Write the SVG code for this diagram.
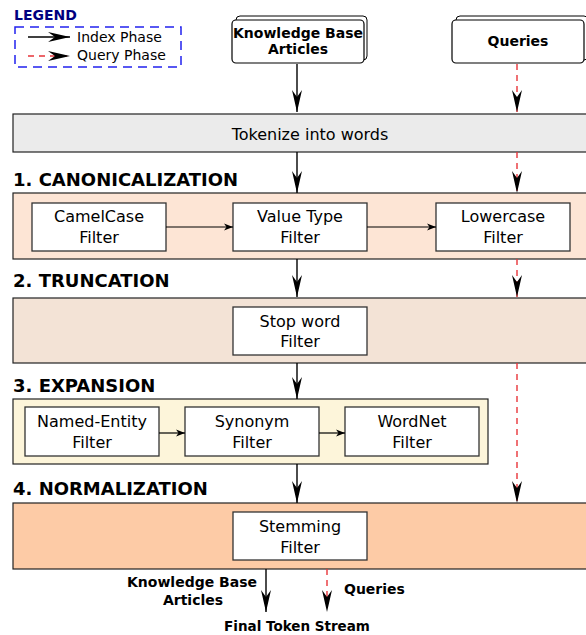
<svg xmlns="http://www.w3.org/2000/svg" width="586" height="635" viewBox="0 0 586 635">
<style>
.t{font-family:"DejaVu Sans",Verdana,sans-serif;fill:#000}
.r{font-size:16px}
.b{font-weight:bold}
.stage{stroke:#222;stroke-width:1.2}
.flt{fill:#fff;stroke:#333;stroke-width:1.3}
.idx{stroke:#000;stroke-width:1.4;fill:none}
.qry{stroke:#e8353a;stroke-width:1.4;fill:none;stroke-dasharray:6 5}
.sm{stroke:#000;stroke-width:1.2;fill:none}
</style>
<defs>
<marker id="vee" markerUnits="userSpaceOnUse" markerWidth="24" markerHeight="12" viewBox="0 -6 24 12" refX="22" refY="0" orient="auto">
<path d="M0,-5 L22,0 L0,5 L7,0 Z" fill="#000"/>
</marker>
<marker id="sv" markerUnits="userSpaceOnUse" markerWidth="10" markerHeight="8" viewBox="0 -4 10 8" refX="9" refY="0" orient="auto">
<path d="M0,-3.5 L9,0 L0,3.5 L2.5,0 Z" fill="#000"/>
</marker>
</defs>

<g id="legend">
<text class="t b" x="14" y="20" font-size="14" style="fill:#000080">LEGEND</text>
<rect x="15" y="27" width="166" height="40" fill="none" stroke="#2222ee" stroke-width="1.5" stroke-dasharray="9 6"/>
<line x1="28" y1="37" x2="70" y2="37" class="idx" marker-end="url(#vee)"/>
<text class="t" x="77" y="42" font-size="14">Index Phase</text>
<line x1="28" y1="56" x2="70" y2="56" class="qry" marker-end="url(#vee)"/>
<text class="t" x="77" y="60" font-size="14">Query Phase</text>
</g>

<g id="kb">
<rect x="236" y="16" width="131" height="44" rx="4" fill="#fff" stroke="#000" stroke-width="1"/>
<rect x="232" y="20" width="132" height="43" rx="4" fill="#fff" stroke="#000" stroke-width="1.2"/>
<text class="t b" x="298" y="38" font-size="14" text-anchor="middle">Knowledge Base</text>
<text class="t b" x="298" y="54" font-size="14" text-anchor="middle">Articles</text>
</g>

<g id="queries">
<rect x="456" y="16" width="132" height="44" rx="4" fill="#fff" stroke="#000" stroke-width="1"/>
<rect x="452" y="20" width="132" height="43" rx="4" fill="#fff" stroke="#000" stroke-width="1.2"/>
<text class="t b" x="518" y="46" font-size="14" text-anchor="middle">Queries</text>
</g>

<g id="tokenize">
<rect x="13" y="114" width="574" height="38" fill="#ebebeb" class="stage"/>
<text class="t r" x="310" y="140" text-anchor="middle">Tokenize into words</text>
</g>

<g id="canonicalization">
<text class="t b" x="13" y="186" font-size="18">1. CANONICALIZATION</text>
<rect x="13" y="193" width="574" height="66" fill="#fde5d5" class="stage"/>
</g>
<g id="camelcase">
<rect x="32" y="203" width="134" height="48" class="flt"/>
<text class="t r" x="99" y="222" text-anchor="middle">CamelCase</text>
<text class="t r" x="99" y="243" text-anchor="middle">Filter</text>
</g>
<g id="valuetype">
<rect x="233" y="203" width="134" height="48" class="flt"/>
<text class="t r" x="300" y="222" text-anchor="middle">Value Type</text>
<text class="t r" x="300" y="243" text-anchor="middle">Filter</text>
</g>
<g id="lowercase">
<rect x="436" y="203" width="134" height="48" class="flt"/>
<text class="t r" x="503" y="222" text-anchor="middle">Lowercase</text>
<text class="t r" x="503" y="243" text-anchor="middle">Filter</text>
</g>

<g id="truncation">
<text class="t b" x="13" y="287" font-size="18">2. TRUNCATION</text>
<rect x="13" y="298" width="574" height="65" fill="#f3e3d6" class="stage"/>
</g>
<g id="stopword">
<rect x="233" y="307" width="134" height="48" class="flt"/>
<text class="t r" x="300" y="327" text-anchor="middle">Stop word</text>
<text class="t r" x="300" y="347" text-anchor="middle">Filter</text>
</g>

<g id="expansion">
<text class="t b" x="13" y="392" font-size="18">3. EXPANSION</text>
<rect x="13" y="399" width="475" height="65" fill="#fdf5da" class="stage"/>
</g>
<g id="namedentity">
<rect x="25" y="407" width="134" height="49" class="flt"/>
<text class="t r" x="92" y="427" text-anchor="middle">Named-Entity</text>
<text class="t r" x="92" y="448" text-anchor="middle">Filter</text>
</g>
<g id="synonym">
<rect x="185" y="407" width="134" height="49" class="flt"/>
<text class="t r" x="252" y="427" text-anchor="middle">Synonym</text>
<text class="t r" x="252" y="448" text-anchor="middle">Filter</text>
</g>
<g id="wordnet">
<rect x="345" y="407" width="134" height="49" class="flt"/>
<text class="t r" x="412" y="427" text-anchor="middle">WordNet</text>
<text class="t r" x="412" y="448" text-anchor="middle">Filter</text>
</g>

<g id="normalization">
<text class="t b" x="13" y="495" font-size="18">4. NORMALIZATION</text>
<rect x="13" y="503" width="574" height="66" fill="#fdcba6" class="stage"/>
</g>
<g id="stemming">
<rect x="233" y="512" width="134" height="48" class="flt"/>
<text class="t r" x="300" y="532" text-anchor="middle">Stemming</text>
<text class="t r" x="300" y="553" text-anchor="middle">Filter</text>
</g>

<g id="outputs">
<text class="t b" x="257" y="587" font-size="14" text-anchor="end">Knowledge Base</text>
<text class="t b" x="193" y="605" font-size="14" text-anchor="middle">Articles</text>
<text class="t b" x="344" y="594" font-size="14">Queries</text>
<text class="t b" x="297" y="631" font-size="13.5" text-anchor="middle">Final Token Stream</text>
</g>

<g id="connectors">
<line x1="297" y1="64" x2="297" y2="112" class="idx" marker-end="url(#vee)"/>
<line x1="517" y1="64" x2="517" y2="112" class="qry" marker-end="url(#vee)"/>
<line x1="297" y1="152" x2="297" y2="193" class="idx" marker-end="url(#vee)"/>
<line x1="517" y1="152" x2="517" y2="193" class="qry" marker-end="url(#vee)"/>
<line x1="166" y1="227" x2="233" y2="227" class="sm" marker-end="url(#sv)"/>
<line x1="367" y1="227" x2="436" y2="227" class="sm" marker-end="url(#sv)"/>
<line x1="297" y1="259" x2="297" y2="297" class="idx" marker-end="url(#vee)"/>
<line x1="517" y1="259" x2="517" y2="297" class="qry" marker-end="url(#vee)"/>
<line x1="297" y1="363" x2="297" y2="399" class="idx" marker-end="url(#vee)"/>
<line x1="159" y1="433" x2="185" y2="433" class="sm" marker-end="url(#sv)"/>
<line x1="319" y1="433" x2="345" y2="433" class="sm" marker-end="url(#sv)"/>
<line x1="517" y1="363" x2="517" y2="503" class="qry" marker-end="url(#vee)"/>
<line x1="297" y1="464" x2="297" y2="503" class="idx" marker-end="url(#vee)"/>
<line x1="266" y1="569" x2="266" y2="612" class="idx" marker-end="url(#vee)"/>
<line x1="327" y1="569" x2="327" y2="612" class="qry" marker-end="url(#vee)"/>
</g>
</svg>
